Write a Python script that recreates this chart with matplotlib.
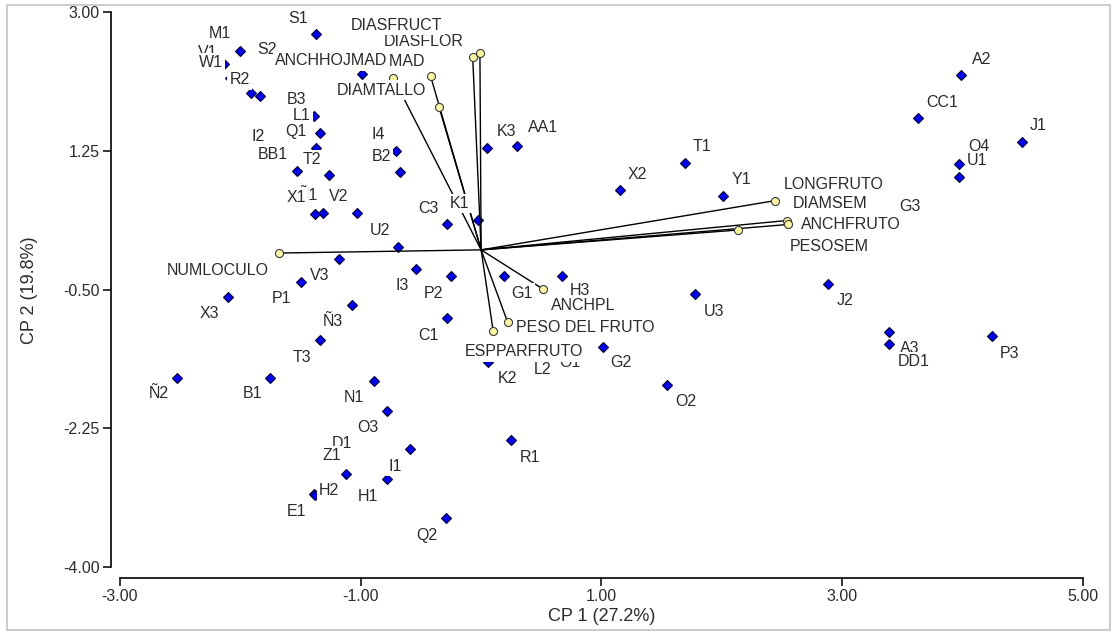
import matplotlib
matplotlib.use("Agg")
import matplotlib.pyplot as plt
from matplotlib.patches import Rectangle
from matplotlib.ticker import FormatStrFormatter

plt.rcParams["font.family"] = ["Liberation Sans", "DejaVu Sans"]
plt.rcParams["axes.unicode_minus"] = False

# observations (scores on CP1 / CP2); "" = point whose label is hidden
obs_names = ["S1", "M1", "V1", "W1", "R2", "", "S2", "", "B3", "L1", "Q1", "I2",
             "BB1", "T2", "I4", "B2", "Ñ1", "X1", "V2", "C3", "K1", "U2", "V3",
             "P1", "X3", "I3", "P2", "Ñ3", "C1", "T3", "Ñ2", "B1", "N1", "O3",
             "D1", "I1", "Z1", "H1", "E1", "H2", "Q2", "K3", "AA1", "T1", "X2",
             "Y1", "G1", "H3", "L2", "O1", "K2", "R1", "O2", "G2", "U3", "A2",
             "CC1", "J1", "O4", "U1", "G3", "J2", "A3", "DD1", "P3"]
obs_x = [-1.37, -2.00, -2.14, -2.09, -1.84, -1.91, -1.59, -0.99, -1.39, -1.34, -1.37, -1.69,
         -1.53, -1.26, -0.71, -0.67, -1.31, -1.38, -1.03, -0.28, -0.03, -0.69, -1.18,
         -1.50, -2.10, -0.54, -0.25, -1.07, -0.28, -1.34, -2.53, -1.75, -0.89, -0.78,
         -0.97, -0.59, -1.12, -0.78, -1.39, -1.38, -0.29, 0.05, 0.30, 1.69, 1.15,
         2.01, 0.19, 0.67, 0.35, 0.58, 0.06, 0.25, 1.54, 1.01, 1.78, 3.99,
         3.63, 4.49, 3.97, 3.97, 3.40, 2.88, 3.39, 3.39, 4.24]
obs_y = [2.72, 2.51, 2.34, 2.17, 1.94, 1.98, 2.36, 2.22, 1.69, 1.47, 1.28, 1.23,
         0.99, 0.94, 1.24, 0.98, 0.47, 0.45, 0.47, 0.32, 0.38, 0.04, -0.11,
         -0.41, -0.59, -0.24, -0.33, -0.70, -0.86, -1.14, -1.61, -1.61, -1.65, -2.03,
         -2.23, -2.51, -2.82, -2.89, -3.08, -3.09, -3.38, 1.29, 1.31, 1.10, 0.75,
         0.68, -0.33, -0.33, -1.29, -1.22, -1.41, -2.40, -1.70, -1.23, -0.56, 2.20,
         1.66, 1.36, 1.08, 0.92, 0.33, -0.43, -1.04, -1.19, -1.09]

# variables (loadings)
var_names = ["NUMLOCULO", "DIASFLOR", "DIASFRUCT", "LONGHOJMAD", "ANCHHOJMAD",
             "DIAMTALLO", "LONGFRUTO", "DIAMSEM", "PESOSEM", "ANCHFRUTO",
             "ANCHPL", "PESO DEL FRUTO", "ESPPARFRUTO"]
var_x = [-1.68, -0.07, -0.01, -0.42, -0.73, -0.35, 2.44, 2.54, 2.13, 2.55, 0.51, 0.22, 0.10]
var_y = [-0.04, 2.43, 2.48, 2.19, 2.17, 1.80, 0.62, 0.37, 0.25, 0.32, -0.49, -0.91, -1.02]

x_ticks = [-3.0, -1.0, 1.0, 3.0, 5.0]
y_ticks = [3.0, 1.25, -0.5, -2.25, -4.0]

# label offsets in pixels (dx, dy up)
obs_off = {
    "S1": (-18, 16), "M1": (-20, 17), "V1": (-16, 12), "W1": (-19, 15), "R2": (-20, 16),
    "S2": (-23, 13), "B3": (-17, 16), "L1": (-18, 18), "Q1": (-20, 17), "I2": (-20, 16),
    "BB1": (-24, 17), "T2": (-18, 16), "I4": (-17, 17), "B2": (-19, 16), "Ñ1": (-16, 17),
    "X1": (-19, 17), "V2": (-19, 16), "C3": (-19, 16), "K1": (-18, 16), "U2": (-18, 16),
    "V3": (-19, -17), "P1": (-19, -16), "X3": (-19, -17), "I3": (-14, -17), "P2": (-18, -17),
    "Ñ3": (-19, -16), "C1": (-19, -17), "T3": (-18, -17), "Ñ2": (-18, -16), "B1": (-18, -16),
    "N1": (-20, -17), "O3": (-19, -17), "D1": (-22, -17), "I1": (-15, -17), "Z1": (-14, 18),
    "H1": (-19, -17), "E1": (-17, -17), "H2": (14, 5), "Q2": (-19, -17), "K3": (19, 16),
    "AA1": (26, 18), "T1": (17, 16), "X2": (18, 16), "Y1": (18, 16), "G1": (18, -17),
    "H3": (18, -14), "L2": (19, -17), "O1": (19, -16), "K2": (19, -17), "R1": (19, -17),
    "O2": (19, -17), "G2": (18, -15), "U3": (19, -17), "A2": (20, 16), "CC1": (24, 16),
    "J1": (17, 16), "O4": (20, 18), "U1": (18, 16), "G3": (20, 17), "J2": (17, -17),
    "A3": (21, -16), "DD1": (24, -17), "P3": (18, -17),
}
var_off = {
    "NUMLOCULO": (-61, -17), "DIASFLOR": (-49, 16), "DIASFRUCT": (-83, 28),
    "LONGHOJMAD": (-62, 15), "ANCHHOJMAD": (-62, 17), "DIAMTALLO": (-58, 17),
    "LONGFRUTO": (59, 16), "DIAMSEM": (43, 17), "PESOSEM": (92, -16),
    "ANCHFRUTO": (63, 0), "ANCHPL": (41, -17), "PESO DEL FRUTO": (78, -5),
    "ESPPARFRUTO": (31, -21),
}

txt_color = "#2b2b2b"
fs = 11.5

fig = plt.figure(figsize=(11.12, 6.32), dpi=100)
ax = fig.add_axes([0.10791, 0.10237, 0.86601, 0.87896])
ax.set_xlim(-3, 5)
ax.set_ylim(-4, 3)

ax.plot(obs_x, obs_y, "D", ms=4.8, mfc="#0000ee", mec="#000030", mew=0.8,
        ls="none", zorder=2)
for vx, vy in zip(var_x, var_y):
    ax.plot([0, vx], [0, vy], color="black", lw=1.0, zorder=3)
ax.plot(var_x, var_y, "o", ms=5.8, mfc="#fbf7a6", mec="#3a3a3a", mew=0.8,
        ls="none", zorder=4)

box = dict(boxstyle="square,pad=0.14", fc="white", ec="none")
for name, x, y in zip(obs_names, obs_x, obs_y):
    if not name:
        continue
    ax.annotate(name, (x, y), xytext=obs_off[name], textcoords="offset pixels",
                ha="center", va="center", fontsize=fs, color=txt_color,
                bbox=box, zorder=5, annotation_clip=False)
for name, x, y in zip(var_names, var_x, var_y):
    ax.annotate(name, (x, y), xytext=var_off[name], textcoords="offset pixels",
                ha="center", va="center", fontsize=fs, color=txt_color,
                bbox=box, zorder=5, annotation_clip=False)

for s in ["top", "right"]:
    ax.spines[s].set_visible(False)
ax.spines["left"].set_position(("outward", 6.5))
ax.spines["left"].set_bounds(-4, 3)
ax.spines["bottom"].set_position(("outward", 7.5))
ax.spines["bottom"].set_bounds(-3, 5)
for s in ["left", "bottom"]:
    ax.spines[s].set_linewidth(1.2)

ax.set_xticks(x_ticks)
ax.set_yticks(y_ticks)
ax.xaxis.set_major_formatter(FormatStrFormatter("%.2f"))
ax.yaxis.set_major_formatter(FormatStrFormatter("%.2f"))
ax.tick_params(direction="out", length=5.5, width=1.1, labelsize=fs,
               labelcolor=txt_color, pad=2.5)

ax.set_xlabel("CP 1 (27.2%)", fontsize=13, color=txt_color)
ax.set_ylabel("CP 2 (19.8%)", fontsize=13, color=txt_color)
ax.xaxis.set_label_coords(0.5, -0.0877)
ax.xaxis.label.set_va("center")
ax.yaxis.set_label_coords(-0.0935, 0.499)
ax.yaxis.label.set_va("center")

fig.add_artist(Rectangle((7 / 1112, 2 / 632), 1103 / 1112, 625 / 632,
                         transform=fig.transFigure, fill=False,
                         ec="#c4c4c4", lw=1.2))

fig.savefig("out.png", dpi=100)
